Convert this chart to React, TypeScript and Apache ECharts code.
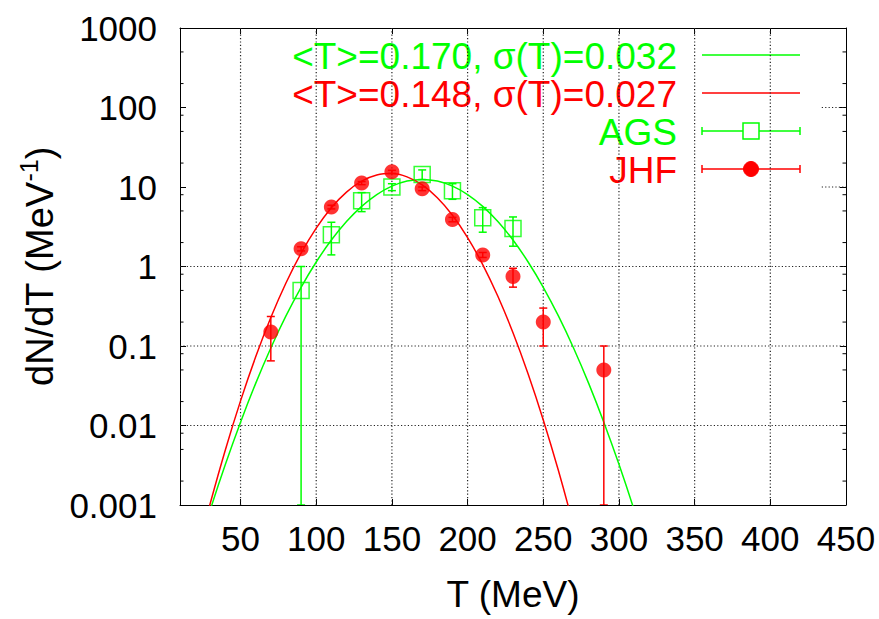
import React, { useEffect, useRef } from 'react';
import * as echarts from 'echarts';

const GREEN = '#00ff00';
const RED = '#ff0000';
const FONT = '"Liberation Sans", Arial, sans-serif';

// axis ticks
const xTicks = [50, 100, 150, 200, 250, 300, 350, 400, 450];
const yTickLabels = ['0.001', '0.01', '0.1', '1', '10', '100', '1000'];
const yMinorTicks = [0.002, 0.005, 0.008, 0.02, 0.05, 0.08, 0.2, 0.5, 0.8, 2, 5, 8, 20, 50, 80, 200, 500];
const gridX = [50, 100, 150, 200, 250, 300, 350, 400];
const gridYFull = [0.01, 0.1, 1];
const gridYPartial = [10, 100];
const gridPartialStart = 434;

// AGS data (open squares)
const agsT = [90, 110, 130, 150, 170, 190, 210, 230];
const agsN = [0.5, 2.5, 6.7, 10.0, 14.4, 9.0, 4.1, 3.0];
const agsErr = [0.5, 1.1, 1.8, 1.0, 2.0, 2.0, 1.4, 1.2];

// JHF data (filled circles)
const jhfT = [70, 90, 110, 130, 150, 170, 190, 210, 230, 250, 290];
const jhfN = [0.15, 1.67, 5.6, 11.2, 15.5, 9.5, 3.9, 1.4, 0.75, 0.2, 0.05];
const jhfErr = [0.085, 0.1, 0.3, 0.5, 0.7, 0.5, 0.25, 0.1, 0.2, 0.1, 0.05];

// fitted curves
const greenFitT = [20, 30, 40, 50, 60, 70, 80, 90, 100, 110, 120, 130, 140, 150, 160, 170, 180, 190, 200, 210, 220, 230, 240, 250, 260, 270, 280, 290, 300, 310, 320];
const greenFitN = [2.1e-4, 8.7e-4, 3.25e-3, 0.011, 0.0339, 0.0945, 0.239, 0.548, 1.14, 2.15, 3.68, 5.71, 8.04, 10.26, 11.88, 12.47, 11.88, 10.26, 8.04, 5.71, 3.68, 2.15, 1.14, 0.548, 0.239, 0.0945, 0.0339, 0.011, 3.25e-3, 8.7e-4, 2.1e-4];
const redFitT = [20, 30, 40, 50, 60, 70, 80, 90, 100, 110, 120, 130, 140, 150, 160, 170, 180, 190, 200, 210, 220, 230, 240, 250, 260, 270, 280];
const redFitN = [1.95e-4, 1.05e-3, 4.96e-3, 0.0204, 0.073, 0.228, 0.62, 1.47, 3.04, 5.49, 8.63, 11.83, 14.14, 14.74, 13.39, 10.6, 7.32, 4.41, 2.31, 1.058, 0.422, 0.147, 0.0445, 0.01176, 2.71e-3, 5.44e-4, 9.5e-5];

const legendLabels = ['<T>=0.170, σ(T)=0.032', '<T>=0.148, σ(T)=0.027', 'AGS', 'JHF'];

const X_MIN = 10;
const X_MAX = 450;
const Y_MIN = 0.001;
const Y_MAX = 1000;

function errorBarRenderer(color: string) {
  return (params: any, api: any) => {
    const x = api.value(0);
    const lo = Math.max(api.value(1), Y_MIN);
    const hi = api.value(2);
    const p0 = api.coord([x, lo]);
    const p1 = api.coord([x, hi]);
    const style = { stroke: color, lineWidth: 1.5 };
    return {
      type: 'group',
      children: [
        { type: 'line', shape: { x1: p0[0], y1: p0[1], x2: p1[0], y2: p1[1] }, style },
        { type: 'line', shape: { x1: p1[0] - 4, y1: p1[1], x2: p1[0] + 4, y2: p1[1] }, style },
        { type: 'line', shape: { x1: p0[0] - 4, y1: p0[1], x2: p0[0] + 4, y2: p0[1] }, style },
      ],
    };
  };
}

function buildLegend() {
  const textRight = 677;
  const sx0 = 702;
  const sx1 = 800;
  const rows = [55, 93, 131, 169];
  const colors = [GREEN, RED, GREEN, RED];
  const els: any[] = [];
  rows.forEach((y, i) => {
    els.push({
      type: 'text',
      x: textRight,
      y: y + 1,
      style: {
        text: legendLabels[i],
        fill: colors[i],
        font: `37px ${FONT}`,
        textAlign: 'right',
        textVerticalAlign: 'middle',
      },
    });
    els.push({
      type: 'line',
      shape: { x1: sx0, y1: y, x2: sx1, y2: y },
      style: { stroke: colors[i], lineWidth: 1.5 },
    });
    if (i >= 2) {
      els.push({ type: 'line', shape: { x1: sx0, y1: y - 4, x2: sx0, y2: y + 4 }, style: { stroke: colors[i], lineWidth: 1.5 } });
      els.push({ type: 'line', shape: { x1: sx1, y1: y - 4, x2: sx1, y2: y + 4 }, style: { stroke: colors[i], lineWidth: 1.5 } });
    }
  });
  els.push({
    type: 'rect',
    shape: { x: 751 - 8, y: 131 - 8, width: 16, height: 16 },
    style: { fill: '#fff', stroke: GREEN, lineWidth: 1.5 },
  });
  els.push({
    type: 'circle',
    shape: { cx: 751, cy: 169, r: 7.5 },
    style: { fill: RED, stroke: RED },
  });
  return els;
}

export default function App() {
  const ref = useRef<HTMLDivElement>(null);

  useEffect(() => {
    const chart = echarts.init(ref.current!, null, { renderer: 'svg' });

    const axisLineStyle = { color: '#000', width: 1 };
    const option: any = {
      animation: false,
      backgroundColor: '#fff',
      textStyle: { fontFamily: FONT },
      grid: { left: 180, right: 33, top: 28, bottom: 114, containLabel: false },
      xAxis: [
        {
          type: 'value',
          min: X_MIN,
          max: X_MAX,
          position: 'bottom',
          name: 'T (MeV)',
          nameLocation: 'middle',
          nameGap: 71,
          nameTextStyle: { fontSize: 37, color: '#000', fontFamily: FONT },
          axisLine: { show: true, onZero: false, lineStyle: axisLineStyle },
          axisTick: { show: true, inside: true, length: 6, customValues: xTicks, lineStyle: axisLineStyle },
          axisLabel: { show: true, customValues: xTicks, fontSize: 35, color: '#000', margin: 16, fontFamily: FONT },
          splitLine: { show: false },
        },
        {
          type: 'value',
          min: X_MIN,
          max: X_MAX,
          position: 'top',
          axisLine: { show: true, onZero: false, lineStyle: axisLineStyle },
          axisTick: { show: true, inside: true, length: 6, customValues: xTicks, lineStyle: axisLineStyle },
          axisLabel: { show: false },
          splitLine: { show: false },
        },
      ],
      yAxis: [
        {
          type: 'log',
          logBase: 10,
          min: Y_MIN,
          max: Y_MAX,
          position: 'left',
          name: '{a|dN/dT (MeV}{s|-1}{a|)}',
          nameLocation: 'middle',
          nameRotate: 90,
          nameGap: 112,
          nameTextStyle: {
            color: '#000',
            rich: {
              a: { fontSize: 38, fontFamily: FONT, color: '#000', lineHeight: 46 },
              s: { fontSize: 25, fontFamily: FONT, color: '#000', verticalAlign: 'top', lineHeight: 25 },
            },
          },
          axisLine: { show: true, onZero: false, lineStyle: axisLineStyle },
          axisTick: { show: true, inside: true, length: 6, lineStyle: axisLineStyle },
          axisLabel: {
            show: true,
            fontSize: 35,
            color: '#000',
            margin: 23,
            fontFamily: FONT,
            formatter: (v: number) => yTickLabels[Math.round(Math.log10(v)) + 3] ?? '',
          },
          splitLine: { show: false },
          minorTick: { show: false },
        },
        {
          type: 'log',
          logBase: 10,
          min: Y_MIN,
          max: Y_MAX,
          position: 'right',
          axisLine: { show: true, onZero: false, lineStyle: axisLineStyle },
          axisTick: { show: true, inside: true, length: 6, lineStyle: axisLineStyle },
          axisLabel: { show: false },
          splitLine: { show: false },
        },
      ],
      graphic: buildLegend(),
      series: [
        {
          type: 'custom',
          name: 'grid',
          silent: true,
          z: 1,
          xAxisIndex: 0,
          yAxisIndex: 0,
          data: [
            ...gridX.map((x) => [x, 1, 0]),
            ...gridYFull.map((y) => [X_MIN, y, 1]),
            ...gridYPartial.map((y) => [gridPartialStart, y, 1]),
          ],
          renderItem: (params: any, api: any) => {
            const x = api.value(0);
            const y = api.value(1);
            const kind = api.value(2);
            let a, b;
            if (kind === 0) {
              a = api.coord([x, Y_MIN]);
              b = api.coord([x, Y_MAX]);
            } else {
              a = api.coord([x, y]);
              b = api.coord([X_MAX, y]);
            }
            return {
              type: 'line',
              shape: { x1: a[0], y1: a[1], x2: b[0], y2: b[1] },
              style: { stroke: '#222', lineWidth: 1.2, lineDash: [1.2, 2.2] },
            };
          },
        },
        {
          type: 'custom',
          name: 'minorTicks',
          silent: true,
          z: 2,
          xAxisIndex: 0,
          yAxisIndex: 0,
          data: yMinorTicks.map((v) => [X_MIN, v]),
          renderItem: (params: any, api: any) => {
            const v = api.value(1);
            const l = api.coord([X_MIN, v]);
            const r = api.coord([X_MAX, v]);
            const style = { stroke: '#000', lineWidth: 1 };
            return {
              type: 'group',
              children: [
                { type: 'line', shape: { x1: l[0], y1: l[1], x2: l[0] + 3.5, y2: l[1] }, style },
                { type: 'line', shape: { x1: r[0], y1: r[1], x2: r[0] - 3.5, y2: r[1] }, style },
              ],
            };
          },
        },
        {
          type: 'line',
          name: legendLabels[0],
          data: greenFitT.map((t, i) => [t, greenFitN[i]]),
          showSymbol: false,
          smooth: 0.4,
          clip: true,
          z: 3,
          lineStyle: { color: GREEN, width: 1.5 },
          itemStyle: { color: GREEN },
        },
        {
          type: 'line',
          name: legendLabels[1],
          data: redFitT.map((t, i) => [t, redFitN[i]]),
          showSymbol: false,
          smooth: 0.4,
          clip: true,
          z: 3,
          lineStyle: { color: RED, width: 1.5 },
          itemStyle: { color: RED },
        },
        {
          type: 'custom',
          name: 'AGS err',
          clip: true,
          z: 4,
          data: agsT.map((t, i) => [t, agsN[i] - agsErr[i], agsN[i] + agsErr[i]]),
          renderItem: errorBarRenderer(GREEN),
        },
        {
          type: 'custom',
          name: 'JHF err',
          clip: true,
          z: 4,
          data: jhfT.map((t, i) => [t, jhfN[i] - jhfErr[i], jhfN[i] + jhfErr[i]]),
          renderItem: errorBarRenderer(RED),
        },
        {
          type: 'scatter',
          name: 'AGS',
          data: agsT.map((t, i) => [t, agsN[i]]),
          symbol: 'rect',
          symbolSize: 16,
          z: 5,
          itemStyle: { color: 'rgba(255,255,255,0)', borderColor: GREEN, borderWidth: 1.5 },
        },
        {
          type: 'scatter',
          name: 'JHF',
          data: jhfT.map((t, i) => [t, jhfN[i]]),
          symbol: 'circle',
          symbolSize: 15,
          z: 5,
          itemStyle: { color: RED },
        },
      ],
    };

    chart.setOption(option);
    return () => chart.dispose();
  }, []);

  return (
    <div
      ref={ref}
      style={{ position: 'absolute', left: 0, top: 0, width: 879, height: 619, background: '#fff' }}
    />
  );
}
